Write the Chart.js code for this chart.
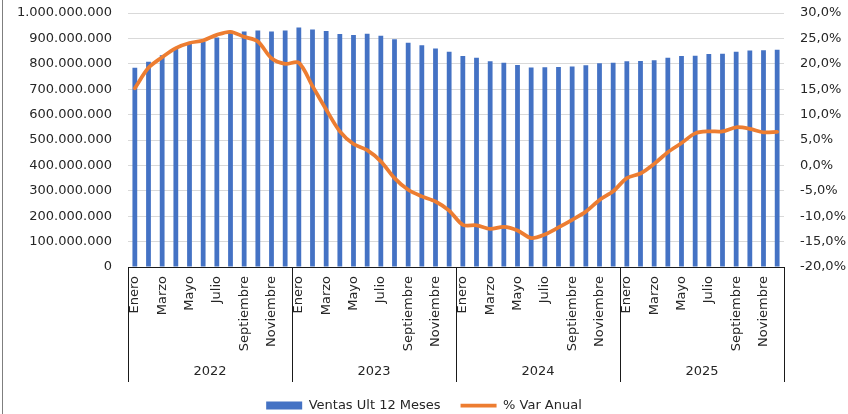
<!DOCTYPE html>
<html lang="es">
<head>
<meta charset="utf-8">
<title>Ventas Ult 12 Meses</title>
<script src="https://cdn.jsdelivr.net/npm/chart.js@4.4.1/dist/chart.umd.min.js"></script>
<style>
  html, body { margin: 0; padding: 0; background: #fff; }
  #wrap { width: 848px; height: 414px; }
</style>
</head>
<body>
<div id="wrap"><canvas id="chart" width="848" height="414"></canvas></div>
<script>
/* ─── Datos ──────────────────────────────────────────── */
const YEARS = ["2022", "2023", "2024", "2025"];
const MONTHS = [
  "Enero", "Febrero", "Marzo", "Abril", "Mayo", "Junio",
  "Julio", "Agosto", "Septiembre", "Octubre", "Noviembre", "Diciembre",
];

// Ventas últimos 12 meses (millones)
const VENTAS_2022 = [784, 808, 834, 862, 882, 888, 904, 922, 927, 931, 927, 931];
const VENTAS_2023 = [943, 935, 929, 917, 913, 918, 910, 897, 883, 873, 860, 847];
const VENTAS_2024 = [831, 824, 810, 804, 795, 785, 786, 787, 789, 794, 802, 804];
const VENTAS_2025 = [810, 811, 814, 824, 831, 832, 839, 840, 847, 852, 853, 855];

// % variación anual
const VAR_2022 = [15.2, 19.2, 21.3, 23.1, 24.1, 24.6, 25.7, 26.3, 25.3, 24.4, 21.1, 20.0];
const VAR_2023 = [20.2, 15.6, 11.0, 6.7, 4.2, 3.0, 0.8, -2.5, -4.8, -6.1, -7.1, -8.9];
const VAR_2024 = [-11.7, -11.8, -12.5, -12.1, -12.8, -14.3, -13.6, -12.2, -10.7, -9.1, -6.8, -5.1];
const VAR_2025 = [-2.5, -1.6, 0.3, 2.6, 4.4, 6.3, 6.7, 6.7, 7.5, 7.2, 6.5, 6.6];

const LEFT_TICKS = { min: 0, max: 1000000000, step: 100000000 };
const RIGHT_TICKS = { min: -20, max: 30, step: 5 };

/* ─── Series armadas ─────────────────────────────────── */
const labels = YEARS.flatMap(() => MONTHS);
const ventas = [VENTAS_2022, VENTAS_2023, VENTAS_2024, VENTAS_2025].flat().map((v) => v * 1000000);
const variacion = [VAR_2022, VAR_2023, VAR_2024, VAR_2025].flat();

const FONT = { family: "'DejaVu Sans', sans-serif", size: 13 };
const TEXT = "#262626";

function fmtMiles(v) {
  return String(Math.round(v)).replace(/\B(?=(\d{3})+(?!\d))/g, ".");
}

function fmtPct(v) {
  return v.toFixed(1).replace(".", ",") + "%";
}

// ejes verticales: ancho fijo y sin padding extra arriba/abajo
function fixY(width) {
  return (s) => {
    s.width = width;
    s.paddingTop = 0;
    s.paddingBottom = 0;
  };
}

/* ─── Separadores de años + borde ────────────────────── */
const groupLines = {
  id: "groupLines",
  afterDraw(chart) {
    const { ctx } = chart;
    const x = chart.scales.x;
    const x2 = chart.scales.x2;
    ctx.save();
    ctx.strokeStyle = "#1a1a1a";
    ctx.lineWidth = 1;
    for (let i = 0; i <= YEARS.length; i++) {
      const px = Math.round(x.getPixelForValue(i * 12 - 0.5)) + 0.5;
      ctx.beginPath();
      ctx.moveTo(px, x.top);
      ctx.lineTo(px, x2.top + 30);
      ctx.stroke();
    }
    ctx.strokeStyle = "#7f7f7f";
    ctx.beginPath();
    ctx.moveTo(2.5, 0);
    ctx.lineTo(2.5, chart.height);
    ctx.stroke();
    ctx.restore();
  },
};

/* ─── Gráfico ────────────────────────────────────────── */
new Chart(document.getElementById("chart"), {
  type: "bar",
  data: {
    labels: labels,
    datasets: [
      {
        type: "line",
        label: "% Var Anual",
        data: variacion,
        yAxisID: "y1",
        borderColor: "#ED7D31",
        backgroundColor: "#ED7D31",
        borderWidth: 3.75,
        pointRadius: 0,
        tension: 0.3,
        borderCapStyle: "round",
        borderJoinStyle: "round",
      },
      {
        label: "Ventas Ult 12 Meses",
        data: ventas,
        yAxisID: "y",
        backgroundColor: "#4472C4",
        borderWidth: 0,
        barPercentage: 0.35,
        categoryPercentage: 1,
      },
    ],
  },
  options: {
    responsive: false,
    animation: false,
    devicePixelRatio: 1,
    layout: { padding: { top: 13, bottom: -8, left: 0, right: 0 } },
    scales: {
      x: {
        offset: true,
        weight: 0,
        grid: { display: false, drawTicks: false },
        border: { display: true, color: "#1a1a1a", width: 1 },
        ticks: {
          autoSkip: false,
          minRotation: 90,
          maxRotation: 90,
          padding: 9,
          color: TEXT,
          font: FONT,
          callback: (val, i) => (i % 2 === 0 ? labels[i] : ""),
        },
        afterFit: (s) => { s.height = 85; },
      },
      x2: {
        type: "category",
        position: "bottom",
        labels: YEARS,
        offset: true,
        weight: 1,
        grid: { display: false, drawTicks: false },
        border: { display: false },
        ticks: { padding: 12, color: TEXT, font: FONT, maxRotation: 0 },
        afterFit: (s) => { s.height = 27; },
      },
      y: {
        position: "left",
        min: LEFT_TICKS.min,
        max: LEFT_TICKS.max,
        grid: { color: "#d9d9d9", drawTicks: false },
        border: { display: false },
        ticks: {
          stepSize: LEFT_TICKS.step,
          padding: 16,
          color: TEXT,
          font: FONT,
          callback: (v) => fmtMiles(v),
        },
        afterFit: fixY(128),
      },
      y1: {
        position: "right",
        min: RIGHT_TICKS.min,
        max: RIGHT_TICKS.max,
        grid: { drawOnChartArea: false, drawTicks: false },
        border: { display: false },
        ticks: {
          stepSize: RIGHT_TICKS.step,
          padding: 16,
          color: TEXT,
          font: FONT,
          callback: (v) => fmtPct(v),
        },
        afterFit: fixY(64),
      },
    },
    plugins: {
      tooltip: { enabled: false },
      legend: {
        position: "bottom",
        labels: {
          usePointStyle: true,
          pointStyleWidth: 36,
          boxHeight: 8,
          padding: 20,
          color: TEXT,
          font: FONT,
          generateLabels(chart) {
            const items = Chart.defaults.plugins.legend.labels.generateLabels(chart);
            items.forEach((it) => {
              it.pointStyle = it.datasetIndex === 0 ? "line" : "rect";
            });
            return items.reverse();
          },
        },
      },
    },
  },
  plugins: [groupLines],
});
</script>
</body>
</html>
